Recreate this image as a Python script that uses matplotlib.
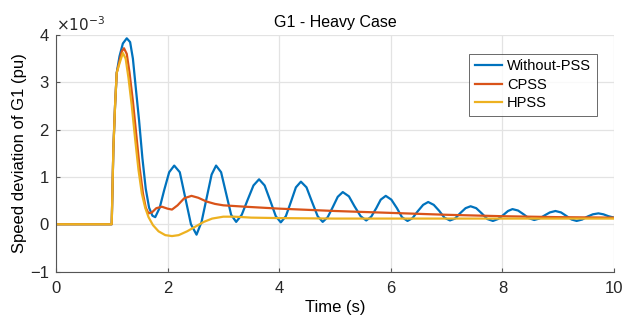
import matplotlib.pyplot as plt

# time (s) and speed deviation (x1e-3 pu)
t_nopss = [0, 1.0, 1.03, 1.06, 1.09, 1.14, 1.2, 1.27, 1.33, 1.38, 1.43, 1.49, 1.55, 1.61, 1.67, 1.73, 1.78,
           1.86, 1.94, 2.03, 2.12, 2.22, 2.32, 2.42, 2.52, 2.61, 2.70, 2.79, 2.87,
           2.96, 3.05, 3.14, 3.23, 3.33, 3.43, 3.54, 3.64, 3.74, 3.84, 3.94, 4.03,
           4.12, 4.21, 4.30, 4.39, 4.49, 4.59, 4.69, 4.78, 4.87, 4.96, 5.05, 5.14,
           5.25, 5.35, 5.46, 5.56, 5.65, 5.74, 5.82, 5.91, 6.01, 6.11, 6.20, 6.30,
           6.39, 6.48, 6.58, 6.67, 6.77, 6.87, 6.96, 7.06, 7.15, 7.24, 7.34, 7.43,
           7.53, 7.63, 7.73, 7.83, 7.92, 8.01, 8.10, 8.18, 8.28, 8.38, 8.47, 8.57,
           8.66, 8.76, 8.85, 8.95, 9.05, 9.14, 9.24, 9.33, 9.43, 9.52, 9.62, 9.72,
           9.81, 9.9, 10.0]
y_nopss = [0, 0, 1.6, 2.5, 3.2, 3.55, 3.82, 3.93, 3.85, 3.5, 2.9, 2.2, 1.4, 0.75, 0.35, 0.18, 0.15,
           0.35, 0.72, 1.1, 1.24, 1.1, 0.55, 0.0, -0.22, 0.05, 0.55, 1.05, 1.24,
           1.1, 0.65, 0.2, 0.05, 0.2, 0.5, 0.82, 0.95, 0.82, 0.5, 0.17, 0.04,
           0.17, 0.47, 0.78, 0.9, 0.78, 0.47, 0.17, 0.05, 0.15, 0.36, 0.58, 0.68,
           0.59, 0.38, 0.17, 0.08, 0.16, 0.34, 0.52, 0.6, 0.52, 0.34, 0.15, 0.07,
           0.13, 0.27, 0.41, 0.47, 0.41, 0.28, 0.14, 0.08, 0.12, 0.23, 0.34, 0.38,
           0.34, 0.23, 0.11, 0.07, 0.11, 0.19, 0.28, 0.32, 0.29, 0.21, 0.13, 0.09,
           0.12, 0.19, 0.25, 0.28, 0.25, 0.18, 0.10, 0.07, 0.10, 0.16, 0.21, 0.23,
           0.21, 0.17, 0.14]

t_cpss = [0, 1.0, 1.03, 1.06, 1.09, 1.14, 1.18, 1.22, 1.27, 1.32, 1.38, 1.44, 1.50, 1.56, 1.61, 1.66,
          1.72, 1.80, 1.90, 2.0, 2.08, 2.18, 2.30, 2.43, 2.55, 2.7, 2.85, 3.0, 3.4, 4.0, 5.0, 6.0,
          7.0, 8.0, 9.0, 10.0]
y_cpss = [0, 0, 1.6, 2.5, 3.2, 3.45, 3.65, 3.72, 3.6, 3.2, 2.6, 1.9, 1.2, 0.65, 0.35, 0.23,
          0.25, 0.34, 0.37, 0.33, 0.31, 0.4, 0.55, 0.6, 0.56, 0.48, 0.43, 0.4, 0.37, 0.33, 0.28, 0.24,
          0.2, 0.17, 0.15, 0.14]

t_hpss = [0, 1.0, 1.03, 1.06, 1.09, 1.14, 1.2, 1.25, 1.3, 1.36, 1.42, 1.48, 1.54, 1.60, 1.66, 1.74,
          1.84, 1.96, 2.08, 2.2, 2.35, 2.5, 2.65, 2.8, 3.0, 3.2, 3.5, 4.0, 5.0, 6.0, 8.0, 10.0]
y_hpss = [0, 0, 1.6, 2.5, 3.2, 3.4, 3.62, 3.5, 3.1, 2.5, 1.8, 1.15, 0.65, 0.35, 0.15, -0.02,
          -0.15, -0.23, -0.25, -0.23, -0.15, -0.05, 0.05, 0.12, 0.16, 0.16, 0.14, 0.13, 0.12, 0.12, 0.12, 0.12]

plt.rcParams['font.family'] = ['Liberation Sans', 'DejaVu Sans']

fig = plt.figure(figsize=(6.35, 3.21), dpi=100)
ax = fig.add_axes([0.088, 0.154, 0.879, 0.737])

ax.plot(t_nopss, y_nopss, color='#0072BD', lw=1.6, label='Without-PSS')
ax.plot(t_cpss, y_cpss, color='#D95319', lw=1.6, label='CPSS')
ax.plot(t_hpss, y_hpss, color='#EDB120', lw=1.6, label='HPSS')

ax.set_xlim(0, 10)
ax.set_ylim(-1, 4)
ax.set_xticks([0, 2, 4, 6, 8, 10])
ax.set_yticks([-1, 0, 1, 2, 3, 4])
ax.grid(True, color='#e3e3e3', lw=0.9)
ax.set_axisbelow(True)
for s in ['top', 'right']:
    ax.spines[s].set_visible(False)
for s in ['left', 'bottom']:
    ax.spines[s].set_color('#555555')
ax.tick_params(direction='in', length=3, labelsize=12, colors='#555555', labelcolor='#262626')
ax.tick_params(axis='x', pad=7)
ax.tick_params(axis='y', pad=5)

ax.text(0.0, 1.015, r'$\times10^{-3}$', transform=ax.transAxes, fontsize=11, color='#262626')
ax.set_title('G1 - Heavy Case', fontsize=11.5, pad=6)
ax.set_xlabel('Time (s)', fontsize=12, labelpad=3)
ax.set_ylabel('Speed deviation of G1 (pu)', fontsize=12, labelpad=2)

leg = ax.legend(loc='upper right', bbox_to_anchor=(0.982, 0.952), fontsize=10.5, fancybox=False,
                handlelength=1.9, handletextpad=0.3, borderpad=0.4, labelspacing=0.3)
leg.get_frame().set_edgecolor('#262626')
leg.get_frame().set_linewidth(0.6)

fig.savefig('out.png', dpi=100)
